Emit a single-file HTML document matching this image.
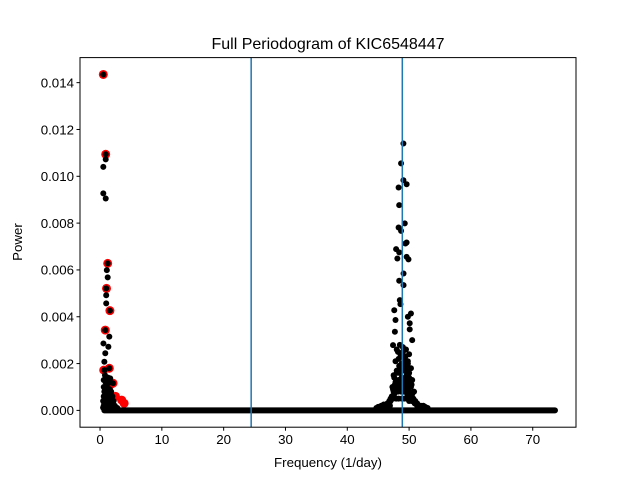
<!DOCTYPE html>
<html><head><meta charset="utf-8"><style>
html,body{margin:0;padding:0;background:#fff;}
svg text{font-family:"Liberation Sans","DejaVu Sans",sans-serif;fill:#000;}
</style></head><body>
<svg id="chart" width="640" height="480" xmlns="http://www.w3.org/2000/svg">
<rect width="640" height="480" fill="#fff"/>
<g id="plot"></g>
<rect x="80" y="57.6" width="496" height="369.6" fill="none" stroke="#000" stroke-width="1"/>
<g id="xticks"></g>
<g id="yticks"></g>
<text x="328" y="49" font-size="16" text-anchor="middle">Full Periodogram of KIC6548447</text>
<text x="328" y="467" font-size="13.3" text-anchor="middle">Frequency (1/day)</text>
<text x="22" y="242" font-size="13.3" text-anchor="middle" transform="rotate(-90 22 242)">Power</text>
</svg>
<script>
const xTicks=[0,10,20,30,40,50,60,70];
const yTicks=[0,0.002,0.004,0.006,0.008,0.010,0.012,0.014];
const yTickLabels=["0.000","0.002","0.004","0.006","0.008","0.010","0.012","0.014"];
const vLines=[24.45,48.9];
const baselineFreq=[0.7,73.6];
const blackFreq=[0.53,0.92,0.92,0.53,0.53,0.92,1.24,1.1,1.24,1.0,1.0,1.0,1.6,0.85,1.5,0.55,1.35,0.85,0.7,1.5,0.7,1.65,2.1,1.1,0.6,0.8,1.0,1.2,1.4,1.6,1.8,2.0,2.2,0.6,0.9,1.2,1.5,1.8,2.1,2.4,0.7,1.0,1.3,1.6,1.9,2.2,2.5,2.8,0.6,0.9,1.2,1.5,0.8,1.3,1.8,
0.5,0.7,0.9,1.1,1.3,1.5,1.7,1.9,0.6,0.8,1.0,1.2,1.4,1.6,1.8,2.0,0.5,0.8,1.1,1.4,1.7,2.0,2.3,0.7,1.1,1.5,1.9,
49.08,48.7,49.08,49.6,48.3,48.4,49.3,48.3,48.7,49.6,49.4,47.9,48.4,49.6,49.9,48.1,49.1,48.4,49.1,48.5,48.6,47.6,50.3,49.8,47.8,50.1,50.1,47.7,50.5,47.4,
48.0,48.5,49.0,49.5,50.0,47.8,48.3,48.8,49.3,49.8,50.3,47.5,48.0,48.5,49.0,49.5,50.0,50.5,47.3,47.8,48.3,48.8,49.3,49.8,50.3,50.8,47.0,47.5,48.0,48.5,49.0,49.5,50.0,50.5,51.0,46.8,47.3,51.3,46.5,51.6,45.5,45.9,46.2,51.9,52.3,52.6,45.0,53.0,44.7,
48.2,48.6,49.0,49.4,49.8,48.4,48.8,49.2,49.6,50.0,47.6,48.0,48.4,48.8,49.2,49.6,50.0,50.4,47.4,47.7,48.1,48.5,48.9,49.3,49.7,50.1,50.5,50.7,47.2,47.6,48.2,48.7,49.1,49.7,50.2,50.6,51.1,46.6,47.0,47.4,47.9,48.3,48.8,49.2,49.6,50.0,50.4,50.9,51.3,46.3,46.9,51.5,51.8,46.0,45.3,44.9,52.1,52.5,52.9];
const blackPower=[0.01435,0.01094,0.01072,0.0104,0.00927,0.00905,0.00628,0.00599,0.00568,0.00521,0.00492,0.00457,0.00426,0.00343,0.00315,0.00286,0.00272,0.00244,0.00208,0.0018,0.00172,0.00137,0.00116,0.00073,0.001,0.0009,0.00095,0.0011,0.0008,0.0009,0.0007,0.0006,0.0004,0.0006,0.0005,0.0006,0.0005,0.0004,0.0003,0.0002,0.0003,0.0002,0.0003,0.0002,0.0002,0.00015,0.0001,0.0001,0.0013,0.0012,0.0010,0.0012,0.0015,0.0014,0.0008,
0.0004,0.0005,0.0007,0.0006,0.0005,0.0006,0.0004,0.0003,0.0002,0.00025,0.0003,0.0003,0.0002,0.0003,0.0002,0.0002,0.00012,0.0001,0.00012,0.0001,0.0001,0.0001,0.0001,0.0008,0.0009,0.0007,0.0005,
0.0114,0.01055,0.00983,0.00966,0.00952,0.00877,0.00799,0.00781,0.00767,0.00717,0.00713,0.00689,0.00675,0.00656,0.00645,0.00649,0.00585,0.00554,0.00535,0.00471,0.00454,0.00428,0.00414,0.004,0.00386,0.00372,0.00346,0.00336,0.003,0.00279,
0.0026,0.0028,0.0027,0.0026,0.0024,0.0021,0.0022,0.0023,0.0022,0.0021,0.0018,0.0015,0.0017,0.0018,0.0019,0.0017,0.0016,0.0013,0.001,0.0012,0.0013,0.0014,0.0013,0.0012,0.001,0.0008,0.0005,0.0008,0.0009,0.001,0.001,0.0009,0.0008,0.0007,0.0004,0.0004,0.0005,0.0003,0.0003,0.0002,0.0002,0.00025,0.0002,0.0002,0.0002,0.00015,0.00015,0.0001,0.0001,
0.0025,0.0024,0.0025,0.0023,0.0020,0.0019,0.0020,0.0021,0.0019,0.0016,0.0014,0.0016,0.0016,0.0017,0.0017,0.0015,0.0014,0.0011,0.0009,0.0011,0.0012,0.0012,0.0012,0.0011,0.0011,0.0010,0.0007,0.0005,0.0006,0.0007,0.0008,0.0008,0.0008,0.0007,0.0006,0.0005,0.0003,0.0003,0.0004,0.0005,0.0005,0.0005,0.0005,0.0005,0.0005,0.0004,0.0004,0.0003,0.0002,0.0002,0.0002,0.0002,0.00015,0.00015,0.0001,0.0001,0.0001,0.0001,0.00008];
const redFreq=[0.53,0.92,1.24,1.05,1.6,0.85,1.5,0.6,1.7,2.1,1.2,2.5,3.5,3.9,1.0,1.3];
const redPower=[0.01435,0.01094,0.00628,0.00521,0.00426,0.00343,0.0018,0.00172,0.0011,0.00116,0.0008,0.0006,0.00044,0.0003,0.0005,0.0009];

const X0=80,X1=576,Y0=57.6,Y1=427.2,xmin=-3.24,xmax=77.0,ymin=-0.000718,ymax=0.01507;
const sx=v=>X0+(v-xmin)/(xmax-xmin)*(X1-X0);
const sy=v=>Y1-(v-ymin)/(ymax-ymin)*(Y1-Y0);
const NS="http://www.w3.org/2000/svg";
function mk(tag,attrs,parent){const e=document.createElementNS(NS,tag);for(const k in attrs)e.setAttribute(k,attrs[k]);parent.appendChild(e);return e;}
const plot=document.getElementById('plot');
redFreq.forEach((f,i)=>{const c=mk('circle',{cx:sx(f),cy:sy(redPower[i]),r:4.5,fill:'#ff0000'},plot);

});
const bl=mk('line',{x1:sx(baselineFreq[0]),x2:sx(baselineFreq[1]),y1:sy(0),y2:sy(0),stroke:'#000','stroke-width':6,'stroke-linecap':'round'},plot);


blackFreq.forEach((f,i)=>{const c=mk('circle',{cx:sx(f),cy:sy(blackPower[i]),r:3,fill:'#000'},plot);

});
vLines.forEach(v=>{const l=mk('line',{x1:sx(v),x2:sx(v),y1:Y0,y2:Y1,stroke:'#1f77b4','stroke-width':1.5},plot);

});
const xg=document.getElementById('xticks');
xTicks.forEach(t=>{const x=sx(t);mk('line',{x1:x,x2:x,y1:Y1,y2:Y1+3.5,stroke:'#000'},xg);
const tx=mk('text',{x:x,y:Y1+17,'font-size':13.3,'text-anchor':'middle'},xg);tx.textContent=t;

});
const yg=document.getElementById('yticks');
yTicks.forEach((t,i)=>{const y=sy(t);mk('line',{x1:X0-3.5,x2:X0,y1:y,y2:y,stroke:'#000'},yg);
const tx=mk('text',{x:X0-6,y:y+4.8,'font-size':13.3,'text-anchor':'end'},yg);tx.textContent=yTickLabels[i];

});
</script>
</body></html>
